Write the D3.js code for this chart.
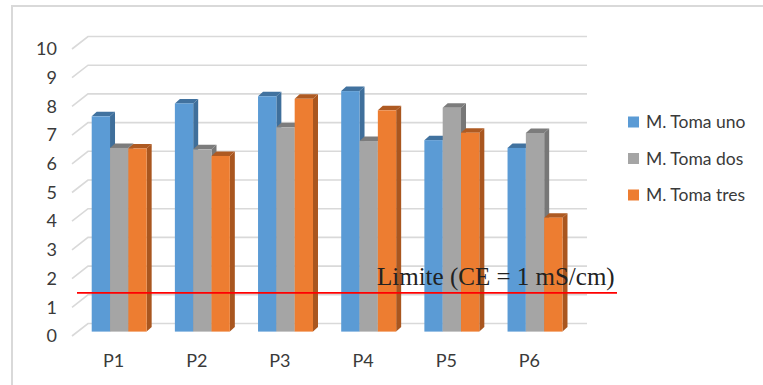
<!DOCTYPE html>
<html>
<head>
<meta charset="utf-8">
<script src="https://cdn.jsdelivr.net/npm/d3@7"></script>
<style>
  html, body { margin: 0; padding: 0; background: #fff; }
  svg { display: block; }
</style>
</head>
<body>
<script>
// ---- data ----
const categories = ["P1", "P2", "P3", "P4", "P5", "P6"];
const seriesNames = ["M. Toma uno", "M. Toma dos", "M. Toma tres"];
const tomaUno  = [7.5, 7.95, 8.2, 8.38, 6.67, 6.4];
const tomaDos  = [6.4, 6.35, 7.12, 6.64, 7.8, 6.92];
const tomaTres = [6.38, 6.12, 8.11, 7.71, 6.93, 3.97];
const yTicks = [0, 1, 2, 3, 4, 5, 6, 7, 8, 9, 10];
const limitValue = [1.35];
const limitLabel = "Limite (CE = 1 mS/cm)";

const seriesValues = [tomaUno, tomaDos, tomaTres];
const colors = ["#5b9bd5", "#a5a5a5", "#ed7d31"];
const darkColors = ["#3f6f9b", "#777777", "#a9561f"];
const topColors = ["#41729f", "#7c7c7c", "#ae5a22"];

const W = 763, H = 385;
const svg = d3.select("body").append("svg").attr("width", W).attr("height", H);

// frame
svg.append("path")
  .attr("d", `M12,${H + 2} L12,6 L${W + 2},6`)
  .attr("fill", "none").attr("stroke", "#d9d9d9").attr("stroke-width", 2);

// 3D geometry
const wall = { dx: 16, dy: -12.5 };       // floor depth
const barPos = { dx: 5.6, dy: -4.4 };     // bar row depth
const barDepth = { dx: 5, dy: -4.5 };     // bar thickness

const x0 = d3.scaleBand().domain(categories).range([72, 571]).padding(0);
const x1 = d3.scaleBand().domain(seriesNames).range([0, x0.bandwidth()])
  .paddingInner(0).paddingOuter(0.77);
const y = d3.scaleLinear().domain([0, 10]).range([336, 49]);

const fontSans = "Lato, 'Open Sans', 'Noto Sans', sans-serif";

// gridlines: side diagonal + back wall line
const grid = svg.append("g");
yTicks.forEach(t => {
  const yf = y(t);
  const x0l = x0.range()[0];
  const x0r = x0.range()[1];
  grid.append("path")
    .attr("d", `M${x0l},${yf} L${x0l + wall.dx},${yf + wall.dy} L${x0r + wall.dx},${yf + wall.dy}`)
    .attr("fill", "none").attr("stroke", "#d9d9d9").attr("stroke-width", 1.6);
});

// y axis labels
const yAxis = svg.append("g")
  .attr("transform", `translate(${x0.range()[0]},0)`)
  .call(d3.axisLeft(y).tickValues(yTicks).tickSize(0).tickPadding(15).tickFormat(d3.format("d")));
yAxis.select(".domain").remove();
yAxis.selectAll("text")
  .attr("font-family", fontSans).attr("font-size", 18).attr("fill", "#3a3a3a");

// x axis labels
const xAxis = svg.append("g")
  .attr("transform", `translate(0,${y(0)})`)
  .call(d3.axisBottom(x0).tickSize(0).tickPadding(18));
xAxis.select(".domain").remove();
xAxis.selectAll("text")
  .attr("font-family", fontSans).attr("font-size", 18).attr("fill", "#3a3a3a");

// bars
const bars = svg.append("g");
categories.forEach((c, ci) => {
  seriesNames.forEach((s, si) => {
    const v = seriesValues[si][ci];
    const xl = x0(c) + x1(s) + barPos.dx;
    const xr = xl + x1.bandwidth();
    const yb = y(0) + barPos.dy;
    const yt = y(v) + barPos.dy;
    const g = bars.append("g");
    // side
    g.append("path")
      .attr("d", `M${xr},${yb} L${xr + barDepth.dx},${yb + barDepth.dy} L${xr + barDepth.dx},${yt + barDepth.dy} L${xr},${yt} Z`)
      .attr("fill", darkColors[si]);
    // top
    g.append("path")
      .attr("d", `M${xl},${yt} L${xl + barDepth.dx},${yt + barDepth.dy} L${xr + barDepth.dx},${yt + barDepth.dy} L${xr},${yt} Z`)
      .attr("fill", topColors[si]);
    // front
    g.append("rect")
      .attr("x", xl).attr("y", yt).attr("width", x1.bandwidth()).attr("height", yb - yt)
      .attr("fill", colors[si]);
  });
});

// limit line
const yl = y(limitValue[0]) + barPos.dy;
svg.append("line")
  .attr("x1", x0.range()[0] + 5).attr("x2", x0.range()[1] + 46)
  .attr("y1", yl).attr("y2", yl)
  .attr("stroke", "#ff0000").attr("stroke-width", 1.6);
svg.append("text")
  .attr("x", 377).attr("y", yl - 8)
  .attr("font-family", "'Liberation Serif', 'Times New Roman', serif")
  .attr("font-size", 25).attr("fill", "#222")
  .text(limitLabel);

// legend
const ly = d3.scalePoint().domain(seriesNames).range([122, 195]);
const legend = svg.append("g");
seriesNames.forEach((s, i) => {
  legend.append("rect")
    .attr("x", 628).attr("y", ly(s) - 5.5).attr("width", 11).attr("height", 11)
    .attr("fill", colors[i]);
  legend.append("text")
    .attr("x", 646).attr("y", ly(s)).attr("dy", "0.35em")
    .attr("font-family", fontSans).attr("font-size", 17.5).attr("fill", "#3a3a3a")
    .text(s);
});
</script>
</body>
</html>
